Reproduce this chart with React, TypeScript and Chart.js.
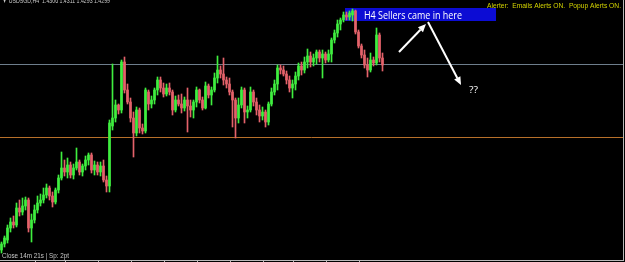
import React, { useEffect, useRef } from "react";
import { Chart, registerables } from "chart.js";

Chart.register(...registerables);

const symbolTitle = "USDSGD,H4";

const candleOpen = [
  1.4114, 1.4120, 1.4124, 1.4136, 1.4142, 1.4139, 1.4156, 1.4152, 1.4158, 1.4164,
  1.4136, 1.4144, 1.4154, 1.4161, 1.4164, 1.4169, 1.4176, 1.4168, 1.4162, 1.4174,
  1.4186, 1.4196, 1.4192, 1.4199, 1.4189, 1.4196, 1.4202, 1.4192, 1.4198, 1.4204,
  1.4209, 1.4194, 1.4199, 1.4192, 1.4198, 1.4184, 1.4178, 1.4238, 1.4246, 1.4259,
  1.4254, 1.4302, 1.4274, 1.4262, 1.4246, 1.4231, 1.4254, 1.4236, 1.4233, 1.4272,
  1.4260, 1.4264, 1.4274, 1.4284, 1.4276, 1.4270, 1.4276, 1.4272, 1.4254, 1.4264,
  1.4260, 1.4256, 1.4264, 1.4258, 1.4254, 1.4262, 1.4274, 1.4264, 1.4256, 1.4278,
  1.4269, 1.4274, 1.4286, 1.4294, 1.4290, 1.4284, 1.4280, 1.4272, 1.4264, 1.4246,
  1.4259, 1.4274, 1.4252, 1.4254, 1.4272, 1.4262, 1.4254, 1.4248, 1.4252, 1.4242,
  1.4260, 1.4272, 1.4280, 1.4296, 1.4294, 1.4290, 1.4284, 1.4276, 1.4280, 1.4288,
  1.4298, 1.4294, 1.4302, 1.4308, 1.4302, 1.4306, 1.4312, 1.4306, 1.4310, 1.4304,
  1.4310, 1.4324, 1.4331, 1.4340, 1.4344, 1.4349, 1.4347, 1.4349, 1.4353, 1.4332,
  1.4318, 1.4309, 1.4299, 1.4294, 1.4304, 1.4301, 1.4329, 1.4306,
];
const candleHigh = [
  1.4122, 1.4128, 1.4139, 1.4146, 1.4148, 1.4161, 1.4164, 1.4166, 1.4167, 1.4166,
  1.4150, 1.4159, 1.4168, 1.4170, 1.4176, 1.4180, 1.4178, 1.4172, 1.4176, 1.4189,
  1.4212, 1.4204, 1.4206, 1.4202, 1.4200, 1.4216, 1.4204, 1.4200, 1.4208, 1.4211,
  1.4211, 1.4203, 1.4202, 1.4202, 1.4204, 1.4188, 1.4244, 1.4300, 1.4264, 1.4260,
  1.4304, 1.4307, 1.4280, 1.4266, 1.4252, 1.4257, 1.4256, 1.4240, 1.4276, 1.4274,
  1.4268, 1.4276, 1.4287, 1.4287, 1.4281, 1.4280, 1.4281, 1.4274, 1.4268, 1.4269,
  1.4270, 1.4267, 1.4276, 1.4264, 1.4264, 1.4277, 1.4275, 1.4267, 1.4282, 1.4280,
  1.4277, 1.4291, 1.4308, 1.4298, 1.4306, 1.4287, 1.4286, 1.4274, 1.4266, 1.4266,
  1.4277, 1.4276, 1.4258, 1.4277, 1.4274, 1.4266, 1.4259, 1.4257, 1.4254, 1.4262,
  1.4276, 1.4284, 1.4299, 1.4299, 1.4298, 1.4293, 1.4288, 1.4284, 1.4292, 1.4301,
  1.4302, 1.4307, 1.4315, 1.4312, 1.4310, 1.4314, 1.4314, 1.4314, 1.4312, 1.4314,
  1.4326, 1.4334, 1.4344, 1.4346, 1.4352, 1.4352, 1.4353, 1.4355, 1.4354, 1.4334,
  1.4320, 1.4314, 1.4306, 1.4311, 1.4307, 1.4336, 1.4331, 1.4311,
];
const candleLow = [
  1.4111, 1.4117, 1.4121, 1.4132, 1.4136, 1.4137, 1.4148, 1.4149, 1.4154, 1.4132,
  1.4122, 1.4141, 1.4151, 1.4158, 1.4161, 1.4166, 1.4164, 1.4157, 1.4160, 1.4171,
  1.4184, 1.4188, 1.4186, 1.4186, 1.4185, 1.4194, 1.4189, 1.4188, 1.4194, 1.4199,
  1.4191, 1.4189, 1.4189, 1.4188, 1.4182, 1.4172, 1.4172, 1.4234, 1.4242, 1.4250,
  1.4251, 1.4271, 1.4260, 1.4242, 1.4207, 1.4228, 1.4231, 1.4230, 1.4231, 1.4254,
  1.4256, 1.4260, 1.4269, 1.4272, 1.4267, 1.4268, 1.4269, 1.4249, 1.4252, 1.4258,
  1.4251, 1.4253, 1.4232, 1.4247, 1.4246, 1.4257, 1.4261, 1.4254, 1.4255, 1.4266,
  1.4259, 1.4272, 1.4281, 1.4286, 1.4279, 1.4276, 1.4269, 1.4237, 1.4226, 1.4241,
  1.4256, 1.4241, 1.4246, 1.4252, 1.4258, 1.4249, 1.4242, 1.4244, 1.4237, 1.4239,
  1.4258, 1.4269, 1.4274, 1.4290, 1.4288, 1.4280, 1.4272, 1.4266, 1.4274, 1.4284,
  1.4289, 1.4291, 1.4296, 1.4297, 1.4298, 1.4300, 1.4302, 1.4286, 1.4301, 1.4302,
  1.4302, 1.4321, 1.4327, 1.4334, 1.4342, 1.4344, 1.4344, 1.4343, 1.4330, 1.4316,
  1.4306, 1.4296, 1.4287, 1.4292, 1.4298, 1.4299, 1.4302, 1.4293,
];
const candleClose = [
  1.4120, 1.4126, 1.4136, 1.4142, 1.4139, 1.4156, 1.4152, 1.4158, 1.4164, 1.4136,
  1.4144, 1.4154, 1.4161, 1.4164, 1.4169, 1.4176, 1.4168, 1.4162, 1.4174, 1.4186,
  1.4196, 1.4192, 1.4199, 1.4189, 1.4196, 1.4202, 1.4192, 1.4198, 1.4204, 1.4209,
  1.4194, 1.4199, 1.4192, 1.4198, 1.4184, 1.4178, 1.4241, 1.4246, 1.4259, 1.4254,
  1.4302, 1.4274, 1.4262, 1.4246, 1.4231, 1.4254, 1.4236, 1.4233, 1.4274, 1.4260,
  1.4264, 1.4274, 1.4284, 1.4276, 1.4270, 1.4276, 1.4272, 1.4254, 1.4264, 1.4260,
  1.4256, 1.4264, 1.4258, 1.4254, 1.4262, 1.4274, 1.4264, 1.4256, 1.4278, 1.4269,
  1.4274, 1.4286, 1.4294, 1.4290, 1.4284, 1.4280, 1.4272, 1.4264, 1.4246, 1.4259,
  1.4274, 1.4252, 1.4254, 1.4272, 1.4262, 1.4254, 1.4248, 1.4252, 1.4242, 1.4260,
  1.4272, 1.4280, 1.4296, 1.4294, 1.4290, 1.4284, 1.4276, 1.4280, 1.4288, 1.4298,
  1.4294, 1.4302, 1.4308, 1.4302, 1.4306, 1.4312, 1.4306, 1.4310, 1.4304, 1.4310,
  1.4324, 1.4331, 1.4340, 1.4344, 1.4349, 1.4347, 1.4351, 1.4353, 1.4332, 1.4318,
  1.4309, 1.4299, 1.4294, 1.4304, 1.4301, 1.4329, 1.4306, 1.4299,
];

const totalSlots = 208;
const resistanceLevel = 1.43;
const supportLevel = 1.4227;
const priceMin = 1.4102;
const priceMax = 1.4364;
const timeTickSlots = [11, 21, 32, 43, 54, 65, 76, 87, 97, 108, 119];

const annotationText = "H4 Sellers came in here";
const alertText = "Alerter:  Emails Alerts ON.  Popup Alerts ON.";
const statusText = "Close 14m 21s | Sp: 2pt";
const questionText = "??";

const UP = "#3fee3f";
const DOWN = "#e4626a";

function fitText(ctx: CanvasRenderingContext2D, text: string, x: number, y: number, w: number) {
  const m = ctx.measureText(text).width;
  const s = m > 0 ? w / m : 1;
  ctx.save();
  ctx.translate(x, y);
  ctx.scale(s, 1);
  ctx.textAlign = "left";
  ctx.fillText(text, 0, 0);
  ctx.restore();
}

function arrow(ctx: CanvasRenderingContext2D, x1: number, y1: number, x2: number, y2: number) {
  const a = Math.atan2(y2 - y1, x2 - x1);
  const hl = 8;
  const hw = 3.5;
  const bx = x2 - hl * Math.cos(a);
  const by = y2 - hl * Math.sin(a);
  ctx.strokeStyle = "#ffffff";
  ctx.fillStyle = "#ffffff";
  ctx.lineWidth = 2;
  ctx.beginPath();
  ctx.moveTo(x1, y1);
  ctx.lineTo(bx, by);
  ctx.stroke();
  ctx.beginPath();
  ctx.moveTo(x2, y2);
  ctx.lineTo(bx + hw * Math.sin(a), by - hw * Math.cos(a));
  ctx.lineTo(bx - hw * Math.sin(a), by + hw * Math.cos(a));
  ctx.closePath();
  ctx.fill();
}

const decorPlugin = {
  id: "decor",
  beforeDraw(chart: any) {
    const { ctx, width, height } = chart;
    ctx.save();
    ctx.fillStyle = "#000000";
    ctx.fillRect(0, 0, width, height);
    ctx.restore();
  },
  beforeDatasetsDraw(chart: any) {
    const { ctx } = chart;
    const y = chart.scales.y;
    ctx.save();
    const hline = (v: number, color: string) => {
      const py = Math.round(y.getPixelForValue(v)) + 0.5;
      ctx.strokeStyle = color;
      ctx.lineWidth = 1;
      ctx.beginPath();
      ctx.moveTo(0, py);
      ctx.lineTo(623, py);
      ctx.stroke();
    };
    hline(resistanceLevel, "#6e7e8c");
    hline(supportLevel, "#b8702a");
    ctx.fillStyle = "#0c0cd4";
    ctx.fillRect(345, 8, 151, 13);
    ctx.restore();
  },
  afterDatasetsDraw(chart: any) {
    const { ctx } = chart;
    const x = chart.scales.x;
    ctx.save();
    // annotation text
    ctx.fillStyle = "#ffffff";
    ctx.font = "10px 'Open Sans'";
    ctx.textBaseline = "alphabetic";
    fitText(ctx, annotationText, 364, 18.5, 98);
    // arrows
    arrow(ctx, 399, 52, 426, 24);
    arrow(ctx, 428, 22, 461, 85);
    ctx.fillStyle = "#ffffff";
    ctx.font = "9px 'Open Sans'";
    fitText(ctx, questionText, 469, 93, 9);
    // alert text
    ctx.fillStyle = "#d4d400";
    ctx.font = "8px 'Liberation Sans'";
    fitText(ctx, alertText, 487, 7.5, 134);
    // title
    const last = candleOpen.length - 1;
    const title = `\u25BC ${symbolTitle}  ${candleOpen[last].toFixed(4)} ${candleHigh[last].toFixed(4)} ${candleLow[last].toFixed(4)} ${candleClose[last].toFixed(4)}`;
    ctx.fillStyle = "#c8c8c8";
    ctx.font = "8px 'Liberation Sans'";
    fitText(ctx, title, 2, 3, 108);
    // status
    ctx.fillStyle = "#c8c8c8";
    fitText(ctx, statusText, 2, 257.5, 67);
    // axes frame
    ctx.strokeStyle = "#b8b8b8";
    ctx.lineWidth = 1;
    ctx.beginPath();
    ctx.moveTo(0, 260.5);
    ctx.lineTo(624, 260.5);
    ctx.moveTo(623.5, 0);
    ctx.lineTo(623.5, 261);
    ctx.stroke();
    ctx.beginPath();
    timeTickSlots.forEach((s) => {
      const px = Math.round(x.getPixelForValue(s)) + 0.5;
      ctx.moveTo(px, 260.5);
      ctx.lineTo(px, 262);
    });
    ctx.stroke();
    ctx.restore();
  },
};

export default function App() {
  const ref = useRef<HTMLCanvasElement>(null);
  useEffect(() => {
    document.body.style.margin = "0";
    document.body.style.background = "#000";
    const labels = Array.from({ length: totalSlots }, (_, i) => String(i));
    const colors = candleClose.map((c, i) => (c >= candleOpen[i] ? UP : DOWN));
    const chart = new Chart(ref.current as HTMLCanvasElement, {
      type: "bar",
      data: {
        labels,
        datasets: [
          {
            data: candleOpen.map((o, i) => [o, candleClose[i]]),
            backgroundColor: colors,
            borderWidth: 0,
            barThickness: 2,
            grouped: false,
          } as any,
          {
            data: candleLow.map((l, i) => [l, candleHigh[i]]),
            backgroundColor: colors,
            borderWidth: 0,
            barThickness: 1,
            grouped: false,
          } as any,
        ],
      },
      options: {
        responsive: false,
        animation: false,
        devicePixelRatio: 1,
        layout: { padding: { left: 0, right: 1, top: 0, bottom: 0 } },
        plugins: { legend: { display: false }, tooltip: { enabled: false } },
        scales: {
          x: { type: "category", display: false, offset: true, grid: { display: false } },
          y: { display: false, min: priceMin, max: priceMax, grid: { display: false } },
        },
      },
      plugins: [decorPlugin],
    });
    return () => chart.destroy();
  }, []);
  return (
    <div style={{ position: "fixed", left: 0, top: 0, width: 625, height: 262, background: "#000" }}>
      <canvas ref={ref} width={625} height={262} style={{ display: "block", width: 625, height: 262 }} />
    </div>
  );
}
